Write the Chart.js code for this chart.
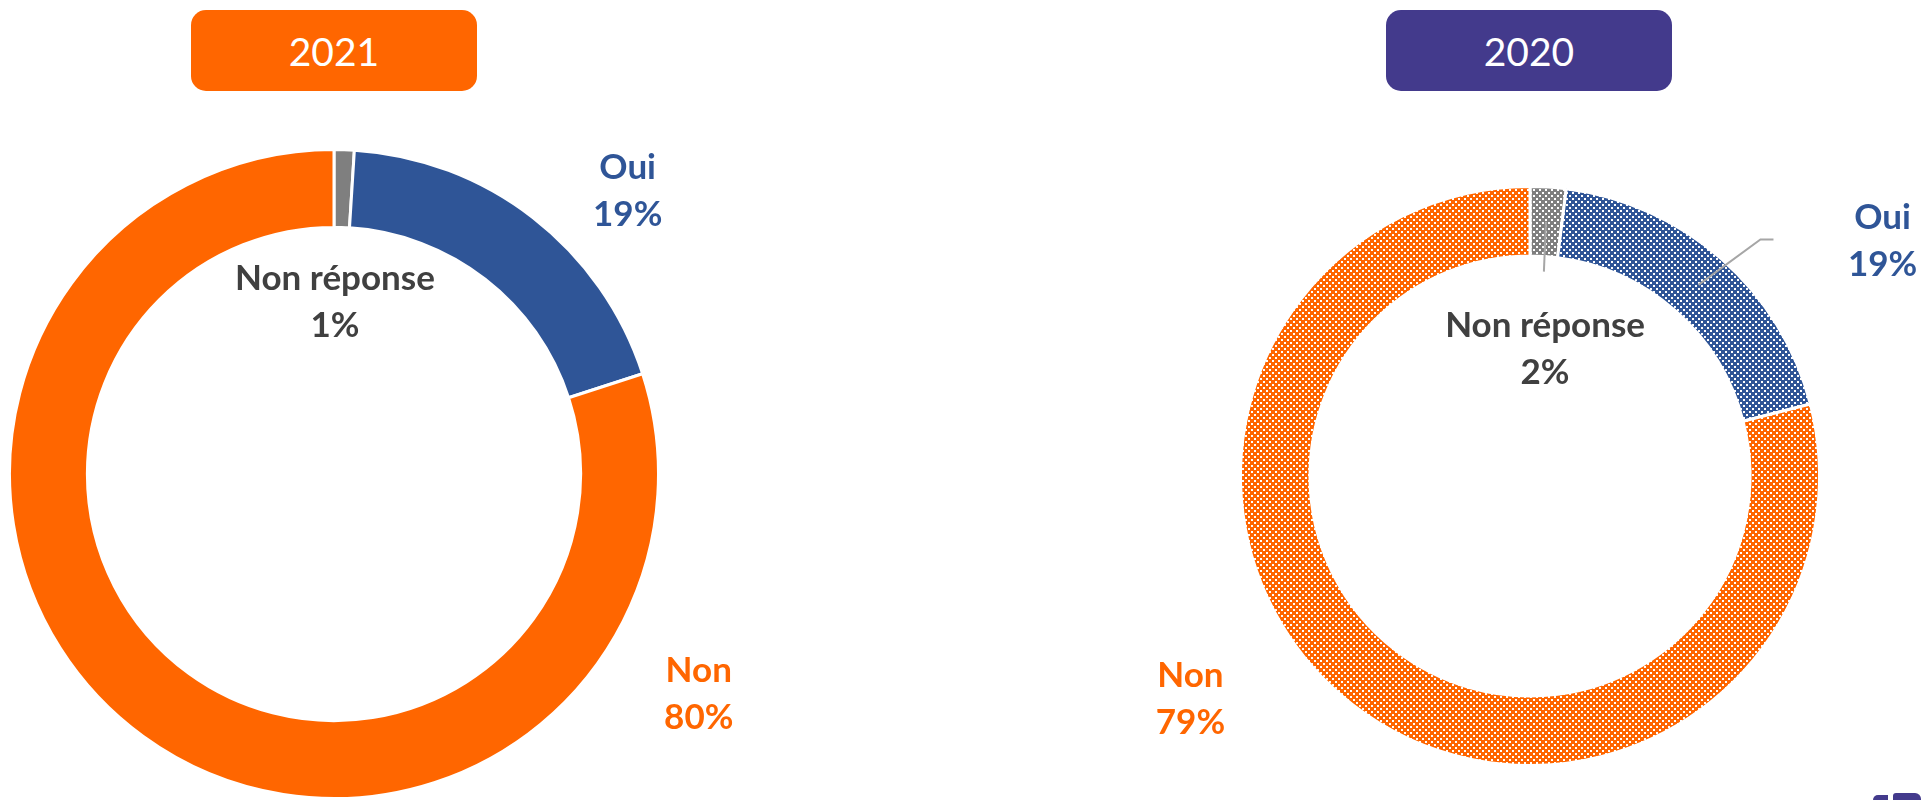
<!DOCTYPE html>
<html>
<head>
<meta charset="utf-8">
<script src="https://cdn.jsdelivr.net/npm/chart.js@4"></script>
<style>
    body { margin: 0; background: #fff; width: 1921px; height: 800px; overflow: hidden; position: relative; }
    .wrap { position: absolute; top: 0; height: 800px; }
    .box {
        position: absolute; top: 10px; width: 286px; height: 81px; border-radius: 15px;
        color: #fff; font: 39px Lato, sans-serif;
        display: flex; align-items: center; justify-content: center;
    }
    .logo { position: absolute; background: #433A8C; }
</style>
</head>
<body>
<div class="wrap" style="left:0;width:960px"><canvas id="c2021" width="960" height="800"></canvas></div>
<div class="wrap" style="left:960px;width:961px"><canvas id="c2020" width="961" height="800"></canvas></div>
<div class="box" id="t2021" style="left:191px;background:#FF6600"></div>
<div class="box" id="t2020" style="left:1386px;background:#433A8C"></div>
<div class="logo" style="left:1873px;top:795px;width:15px;height:5px;border-radius:8px 0 0 0"></div>
<div class="logo" style="left:1893px;top:793px;width:28px;height:7px;border-radius:3px 6px 0 0"></div>
<script>
    const years = ['2021', '2020'];
    const categories = ['Non réponse', 'Oui', 'Non'];
    const values2021 = [1, 19, 80];
    const values2020 = [2, 19, 79];

    const sliceColors = ['#7F7F7F', '#2F5597', '#FF6600'];
    const labelColors = ['#404040', '#2F5597', '#FF6600'];

    document.getElementById('t2021').textContent = years[0];
    document.getElementById('t2020').textContent = years[1];

    // small checkered fill, like the Excel pattern on the 2020 ring
    function checker(color) {
        const t = document.createElement('canvas');
        t.width = 6;
        t.height = 6;
        const g = t.getContext('2d');
        g.fillStyle = color;
        g.fillRect(0, 0, 6, 6);
        g.fillStyle = '#fff';
        g.fillRect(0, 0, 2, 2);
        g.fillRect(3, 3, 2, 2);
        return g.createPattern(t, 'repeat');
    }

    function labelPlugin(values, layout) {
        return {
            id: 'sliceLabels',
            afterDatasetsDraw(chart) {
                const ctx = chart.ctx;
                const arcs = chart.getDatasetMeta(0).data;
                ctx.save();
                arcs.forEach((arc, i) => {
                    const p = arc.getProps(['x', 'y', 'outerRadius', 'innerRadius', 'startAngle', 'endAngle'], true);
                    const R = p.outerRadius;
                    const lead = layout.leaders && layout.leaders[i];
                    if (lead) {
                        const mid = (p.startAngle + p.endAngle) / 2;
                        const rm = (p.innerRadius + p.outerRadius) / 2;
                        ctx.beginPath();
                        ctx.moveTo(p.x + Math.cos(mid) * rm, p.y + Math.sin(mid) * rm);
                        lead.forEach(q => ctx.lineTo(p.x + q[0] * R, p.y + q[1] * R));
                        ctx.strokeStyle = '#A6A6A6';
                        ctx.lineWidth = 2;
                        ctx.stroke();
                    }
                    const off = layout.offsets[i];
                    const lx = p.x + off[0] * R;
                    const ly = p.y + off[1] * R;
                    ctx.fillStyle = labelColors[i];
                    ctx.font = 'bold 35px Lato';
                    ctx.textAlign = 'center';
                    ctx.textBaseline = 'middle';
                    ctx.fillText(categories[i], lx, ly - 23.5);
                    ctx.fillText(values[i] + '%', lx, ly + 23.5);
                });
                ctx.restore();
            }
        };
    }

    function donut(id, values, colors, padding, layout) {
        new Chart(document.getElementById(id), {
            type: 'doughnut',
            data: {
                labels: categories,
                datasets: [{
                    data: values,
                    backgroundColor: colors,
                    borderColor: '#fff',
                    borderWidth: 3
                }]
            },
            options: {
                responsive: false,
                animation: false,
                cutout: '76%',
                layout: { padding: padding },
                plugins: {
                    legend: { display: false },
                    tooltip: { enabled: false }
                }
            },
            plugins: [labelPlugin(values, layout)]
        });
    }

    donut('c2021', values2021, sliceColors,
        { left: 8, top: 148, right: 300, bottom: 0 },
        { offsets: [[0.003, -0.53], [0.905, -0.87], [1.124, 0.68]] });

    donut('c2020', values2020, sliceColors.map(checker),
        { left: 279, top: 185, right: 100, bottom: 33 },
        {
            offsets: [[0.052, -0.438], [1.218, -0.811], [-1.173, 0.772]],
            leaders: [[[0.048, -0.706]], [[0.796, -0.817], [0.841, -0.817]], null]
        });
</script>
</body>
</html>
